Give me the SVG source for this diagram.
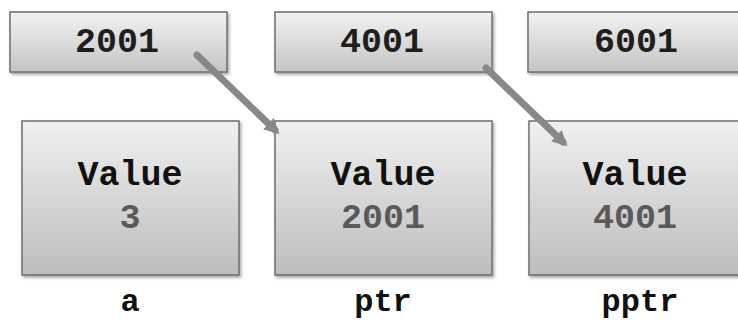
<svg xmlns="http://www.w3.org/2000/svg" width="738" height="322" viewBox="0 0 738 322">
<defs>
<linearGradient id="gTop" x1="0" y1="0" x2="0" y2="1">
<stop offset="0" stop-color="#f2f2f2"/>
<stop offset="1" stop-color="#c4c4c4"/>
</linearGradient>
<linearGradient id="gBox" x1="0" y1="0" x2="0" y2="1">
<stop offset="0" stop-color="#f0f0f0"/>
<stop offset="1" stop-color="#bdbdbd"/>
</linearGradient>
<filter id="sh" x="-10%" y="-10%" width="130%" height="140%">
<feDropShadow dx="1.5" dy="2" stdDeviation="1.8" flood-color="#000" flood-opacity="0.35"/>
</filter>
<marker id="ah" viewBox="0 0 10 10" refX="6" refY="5" markerWidth="2.2" markerHeight="2.2" orient="auto">
<path d="M0,0 L10,5 L0,10 z" fill="#888"/>
</marker>
<style>
.tb{fill:url(#gTop);stroke:#6e6e6e;stroke-width:1.5;filter:url(#sh)}
.bb{fill:url(#gBox);stroke:#6e6e6e;stroke-width:1.5;filter:url(#sh)}
.t{font-family:"Liberation Mono","Courier New",monospace;font-weight:bold;text-anchor:middle}
.addr{font-size:35px;fill:#1e1e1e}
.val{font-size:35px;fill:#111}
.num{font-size:35px;fill:#5a5a5a}
.lbl{font-size:32px;fill:#111}
.c{stroke:#888;stroke-width:7;stroke-linecap:round;fill:none}
</style>
</defs>
<g id="addr2001"><rect class="tb" x="10" y="12" width="217" height="60"/><text class="t addr" x="117" y="52">2001</text></g>
<g id="addr4001"><rect class="tb" x="275" y="12" width="217" height="60"/><text class="t addr" x="382" y="52">4001</text></g>
<g id="addr6001"><rect class="tb" x="528" y="12" width="216" height="60"/><text class="t addr" x="636" y="52">6001</text></g>
<g id="a"><rect class="bb" x="22" y="121" width="217" height="154"/><text class="t val" x="130" y="185">Value</text><text class="t num" x="130" y="228">3</text><text class="t lbl" x="130" y="311">a</text></g>
<g id="ptr"><rect class="bb" x="275" y="121" width="217" height="154"/><text class="t val" x="383" y="185">Value</text><text class="t num" x="383" y="228">2001</text><text class="t lbl" x="383" y="311">ptr</text></g>
<g id="pptr"><rect class="bb" x="529" y="121" width="214" height="154"/><text class="t val" x="635" y="185">Value</text><text class="t num" x="635" y="228">4001</text><text class="t lbl" x="640" y="311">pptr</text></g>
<g id="connectors">
<line class="c" x1="197" y1="55" x2="275" y2="130" marker-end="url(#ah)"/>
<line class="c" x1="486" y1="68" x2="563" y2="142" marker-end="url(#ah)"/>
</g>
</svg>
